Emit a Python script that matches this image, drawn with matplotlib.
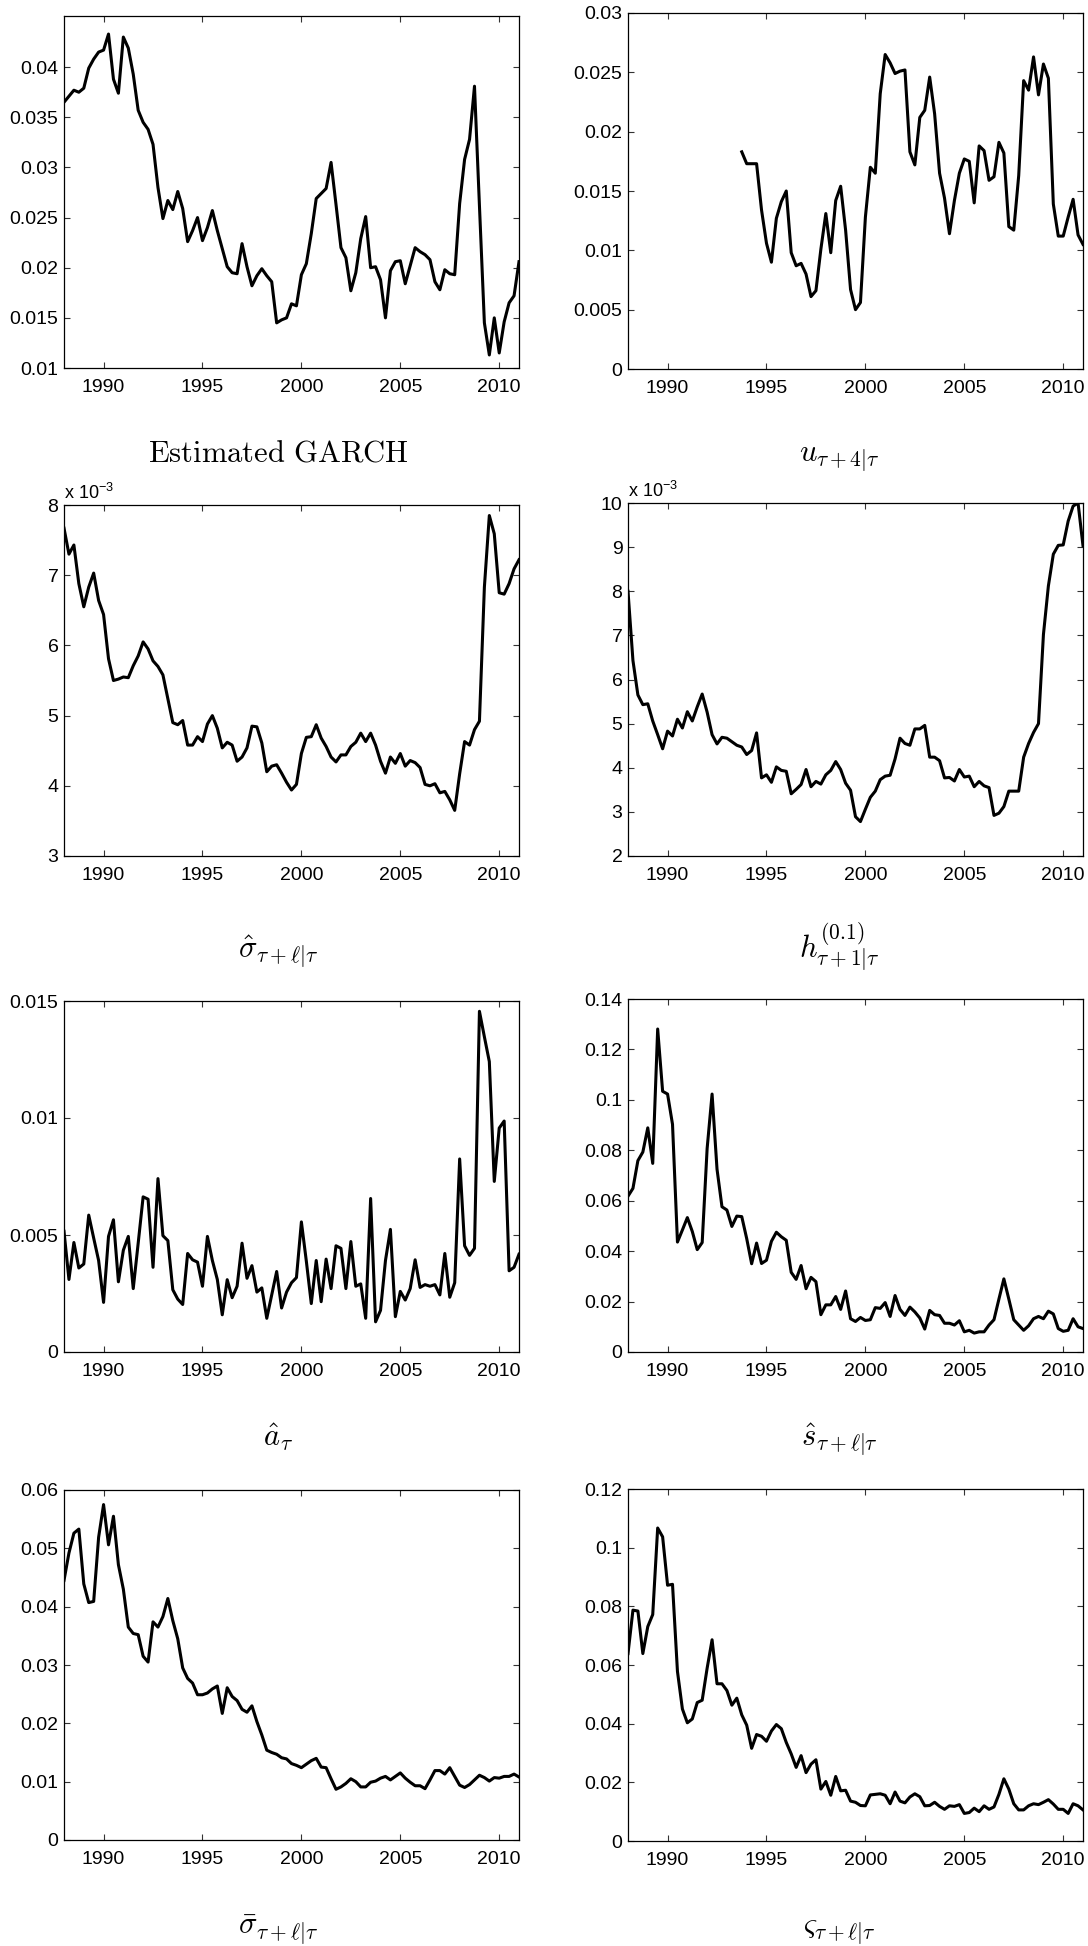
import numpy as np
import matplotlib
matplotlib.use("Agg")
import matplotlib.pyplot as plt
from matplotlib.ticker import FuncFormatter

plt.rcParams['font.family'] = ['Liberation Sans', 'DejaVu Sans']
plt.rcParams['mathtext.fontset'] = 'cm'

W, H = 1088, 1946

# quarterly dates 1988Q1 .. 2011Q1
quarters = np.arange(1988.0, 2011.01, 0.25)

garch_est = [
    0.0365, 0.0371, 0.0377, 0.0375, 0.0379, 0.0399, 0.0408, 0.0415,
    0.0417, 0.0433, 0.0388, 0.0374, 0.0430, 0.0419, 0.0393, 0.0357,
    0.0345, 0.0338, 0.0323, 0.0280, 0.0249, 0.0267, 0.0258, 0.0276,
    0.0259, 0.0226, 0.0237, 0.0250, 0.0227, 0.0240, 0.0257, 0.0237,
    0.0219, 0.0201, 0.0195, 0.0194, 0.0224, 0.0201, 0.0182, 0.0192,
    0.0199, 0.0192, 0.0186, 0.0145, 0.0148, 0.0150, 0.0164, 0.0162,
    0.0193, 0.0204, 0.0234, 0.0269, 0.0274, 0.0279, 0.0305, 0.0263,
    0.0220, 0.0210, 0.0177, 0.0195, 0.0229, 0.0251, 0.0200, 0.0201,
    0.0188, 0.0150, 0.0197, 0.0206, 0.0207, 0.0184, 0.0202, 0.0220,
    0.0216, 0.0213, 0.0208, 0.0186, 0.0178, 0.0198, 0.0194, 0.0193,
    0.0264, 0.0308, 0.0328, 0.0381, 0.0262, 0.0145, 0.0113, 0.0150,
    0.0115, 0.0146, 0.0165, 0.0172, 0.0206,
]

# u_{t+4|t}, available from 1993Q4 on
u_ahead = [
    0.0183,
    0.0173, 0.0173, 0.0173, 0.0134, 0.0106, 0.0090, 0.0127, 0.0141,
    0.0150, 0.0098, 0.0087, 0.0089, 0.0080, 0.0061, 0.0066, 0.0101,
    0.0131, 0.0098, 0.0142, 0.0154, 0.0117, 0.0067, 0.0050, 0.0056,
    0.0128, 0.0170, 0.0165, 0.0232, 0.0265, 0.0258, 0.0249, 0.0251,
    0.0252, 0.0183, 0.0172, 0.0212, 0.0218, 0.0246, 0.0215, 0.0165,
    0.0144, 0.0114, 0.0142, 0.0165, 0.0177, 0.0175, 0.0140, 0.0188,
    0.0184, 0.0159, 0.0162, 0.0191, 0.0182, 0.0120, 0.0117, 0.0163,
    0.0243, 0.0235, 0.0263, 0.0231, 0.0257, 0.0245, 0.0139, 0.0112,
    0.0112, 0.0128, 0.0143, 0.0113, 0.0105,
]

# sigma hat, in units of 1e-3
sigma_hat = [
    7.67, 7.30, 7.43, 6.88, 6.55, 6.83, 7.03, 6.64,
    6.44, 5.81, 5.50, 5.52, 5.55, 5.54, 5.71, 5.85,
    6.05, 5.95, 5.78, 5.70, 5.58, 5.24, 4.90, 4.87,
    4.93, 4.58, 4.58, 4.70, 4.63, 4.88, 5.00, 4.82,
    4.54, 4.62, 4.58, 4.35, 4.41, 4.54, 4.85, 4.84,
    4.61, 4.20, 4.28, 4.30, 4.18, 4.05, 3.94, 4.02,
    4.46, 4.69, 4.70, 4.87, 4.68, 4.56, 4.41, 4.34,
    4.44, 4.44, 4.56, 4.62, 4.75, 4.63, 4.75, 4.58,
    4.35, 4.18, 4.41, 4.32, 4.46, 4.28, 4.36, 4.33,
    4.26, 4.02, 4.00, 4.03, 3.90, 3.92, 3.80, 3.65,
    4.17, 4.63, 4.58, 4.80, 4.92, 6.83, 7.85, 7.59,
    6.75, 6.73, 6.88, 7.09, 7.22,
]

# h^(0.1), in units of 1e-3
h_quant = [
    8.00, 6.43, 5.65, 5.43, 5.45, 5.06, 4.75, 4.43,
    4.83, 4.72, 5.10, 4.90, 5.27, 5.06, 5.38, 5.67,
    5.26, 4.75, 4.54, 4.69, 4.67, 4.59, 4.51, 4.47,
    4.30, 4.39, 4.79, 3.77, 3.84, 3.67, 4.02, 3.94,
    3.92, 3.41, 3.51, 3.62, 3.96, 3.57, 3.69, 3.63,
    3.84, 3.94, 4.14, 3.96, 3.65, 3.49, 2.89, 2.78,
    3.06, 3.33, 3.47, 3.73, 3.81, 3.83, 4.20, 4.67,
    4.55, 4.51, 4.88, 4.88, 4.96, 4.24, 4.24, 4.16,
    3.77, 3.78, 3.70, 3.96, 3.79, 3.81, 3.57, 3.69,
    3.59, 3.55, 2.92, 2.97, 3.12, 3.47, 3.47, 3.47,
    4.24, 4.55, 4.80, 5.00, 7.02, 8.12, 8.84, 9.04,
    9.05, 9.59, 9.93, 10.0, 9.03,
]

a_hat = [
    0.00516, 0.00310, 0.00468, 0.00359, 0.00376, 0.00585, 0.00487, 0.00391,
    0.00212, 0.00494, 0.00565, 0.00300, 0.00435, 0.00494, 0.00271, 0.00465,
    0.00663, 0.00653, 0.00362, 0.00741, 0.00497, 0.00476, 0.00266, 0.00226,
    0.00203, 0.00421, 0.00394, 0.00384, 0.00281, 0.00494, 0.00391, 0.00310,
    0.00159, 0.00309, 0.00232, 0.00281, 0.00465, 0.00315, 0.00369, 0.00256,
    0.00274, 0.00144, 0.00244, 0.00344, 0.00188, 0.00256, 0.00296, 0.00318,
    0.00556, 0.00388, 0.00207, 0.00391, 0.00215, 0.00397, 0.00271, 0.00454,
    0.00443, 0.00271, 0.00472, 0.00281, 0.00291, 0.00144, 0.00656, 0.00129,
    0.00178, 0.00391, 0.00524, 0.00151, 0.00259, 0.00222, 0.00271, 0.00394,
    0.00276, 0.00288, 0.00281, 0.00288, 0.00244, 0.00421, 0.00234, 0.00296,
    0.00825, 0.00454, 0.00413, 0.00443, 0.01456, 0.01347, 0.01241, 0.00729,
    0.00957, 0.00987, 0.00347, 0.00362, 0.00418,
]

s_hat = [
    0.0618, 0.0649, 0.0759, 0.0793, 0.0889, 0.0748, 0.1281, 0.1034,
    0.1023, 0.0903, 0.0436, 0.0484, 0.0533, 0.0478, 0.0406, 0.0434,
    0.0807, 0.1023, 0.0725, 0.0576, 0.0563, 0.0498, 0.0539, 0.0537,
    0.0450, 0.0350, 0.0432, 0.0351, 0.0364, 0.0439, 0.0475, 0.0457,
    0.0443, 0.0316, 0.0288, 0.0343, 0.0251, 0.0296, 0.0279, 0.0148,
    0.0187, 0.0187, 0.0220, 0.0169, 0.0242, 0.0132, 0.0121, 0.0137,
    0.0125, 0.0128, 0.0176, 0.0173, 0.0196, 0.0141, 0.0224, 0.0169,
    0.0145, 0.0178, 0.0159, 0.0135, 0.0091, 0.0165, 0.0148, 0.0145,
    0.0114, 0.0114, 0.0107, 0.0124, 0.0080, 0.0086, 0.0075, 0.0080,
    0.0080, 0.0107, 0.0128, 0.0210, 0.0290, 0.0210, 0.0128, 0.0107,
    0.0086, 0.0104, 0.0132, 0.0141, 0.0132, 0.0162, 0.0151, 0.0093,
    0.0082, 0.0086, 0.0132, 0.0100, 0.0093,
]

sigma_bar = [
    0.0445, 0.0492, 0.0526, 0.0533, 0.0439, 0.0407, 0.0409, 0.0519,
    0.0575, 0.0506, 0.0555, 0.0472, 0.0430, 0.0365, 0.0354, 0.0352,
    0.0315, 0.0305, 0.0374, 0.0365, 0.0383, 0.0414, 0.0376, 0.0345,
    0.0295, 0.0277, 0.0269, 0.0249, 0.0249, 0.0252, 0.0259, 0.0264,
    0.0217, 0.0261, 0.0246, 0.0239, 0.0224, 0.0219, 0.0230, 0.0203,
    0.0180, 0.0154, 0.0150, 0.0147, 0.0141, 0.0139, 0.0131, 0.0128,
    0.0124, 0.0130, 0.0136, 0.0140, 0.0125, 0.0124, 0.0105, 0.0087,
    0.0091, 0.0097, 0.0105, 0.0100, 0.0091, 0.0091, 0.0099, 0.0101,
    0.0106, 0.0109, 0.0103, 0.0109, 0.0115, 0.0106, 0.0099, 0.0093,
    0.0093, 0.0088, 0.0103, 0.0119, 0.0119, 0.0113, 0.0124, 0.0109,
    0.0094, 0.0090, 0.0095, 0.0103, 0.0111, 0.0107, 0.0101, 0.0107,
    0.0106, 0.0109, 0.0109, 0.0113, 0.0108,
]

varsigma = [
    0.0639, 0.0787, 0.0784, 0.0639, 0.0731, 0.0772, 0.1067, 0.1037,
    0.0872, 0.0875, 0.0578, 0.0450, 0.0403, 0.0416, 0.0472, 0.0480,
    0.0589, 0.0686, 0.0536, 0.0536, 0.0513, 0.0463, 0.0487, 0.0430,
    0.0395, 0.0316, 0.0363, 0.0357, 0.0340, 0.0375, 0.0397, 0.0383,
    0.0336, 0.0297, 0.0251, 0.0291, 0.0233, 0.0262, 0.0277, 0.0177,
    0.0203, 0.0156, 0.0220, 0.0171, 0.0173, 0.0136, 0.0132, 0.0121,
    0.0120, 0.0157, 0.0159, 0.0161, 0.0156, 0.0127, 0.0167, 0.0136,
    0.0130, 0.0150, 0.0161, 0.0151, 0.0120, 0.0121, 0.0132, 0.0118,
    0.0108, 0.0120, 0.0118, 0.0124, 0.0094, 0.0097, 0.0112, 0.0100,
    0.0120, 0.0108, 0.0116, 0.0159, 0.0212, 0.0177, 0.0127, 0.0106,
    0.0106, 0.0120, 0.0127, 0.0124, 0.0132, 0.0141, 0.0126, 0.0108,
    0.0108, 0.0094, 0.0127, 0.0120, 0.0106,
]

year_ticks = [1990, 1995, 2000, 2005, 2010]

captions = [
    r'$\mathrm{Estimated\ GARCH}$',
    r'$u_{\tau+4|\tau}$',
    r'$\hat{\sigma}_{\tau+\ell|\tau}$',
    r'$h^{(0.1)}_{\tau+1|\tau}$',
    r'$\hat{a}_{\tau}$',
    r'$\hat{s}_{\tau+\ell|\tau}$',
    r'$\bar{\sigma}_{\tau+\ell|\tau}$',
    r'$\varsigma_{\tau+\ell|\tau}$',
]

# panel spec: series, x values, y limits, y ticks, scaled by 1e-3?
panels = [
    (garch_est, quarters, (0.01, 0.0451), np.arange(0.01, 0.0401, 0.005), False),
    (u_ahead, quarters[-len(u_ahead):], (0, 0.03), np.arange(0, 0.0301, 0.005), False),
    (sigma_hat, quarters, (3, 8), np.arange(3, 9), True),
    (h_quant, quarters, (2, 10), np.arange(2, 11), True),
    (a_hat, quarters, (0, 0.015), [0, 0.005, 0.01, 0.015], False),
    (s_hat, quarters, (0, 0.14), np.arange(0, 0.141, 0.02), False),
    (sigma_bar, quarters, (0, 0.06), np.arange(0, 0.061, 0.01), False),
    (varsigma, quarters, (0, 0.12), np.arange(0, 0.121, 0.02), False),
]

# axes boxes in pixels: left, top, right, bottom
boxes = [
    (64, 16, 519, 368), (628, 13, 1083, 369),
    (64, 505, 519, 856), (628, 503, 1083, 856),
    (64, 1001, 519, 1352), (628, 999, 1083, 1352),
    (64, 1490, 519, 1840), (628, 1489, 1083, 1841),
]
caption_base = [462, 958, 1446, 1935]
caption_x = [278, 839]

fig = plt.figure(figsize=(W / 100, H / 100), dpi=100)
fmt = FuncFormatter(lambda v, p: f'{round(v, 6):g}')

for i, (ys, xs, ylim, yticks, scaled) in enumerate(panels):
    l, t, r, b = boxes[i]
    ax = fig.add_axes([l / W, 1 - b / H, (r - l) / W, (b - t) / H])
    ax.plot(xs, ys, color='black', lw=2.2)
    ax.set_xlim(1988, 2011)
    ax.set_ylim(*ylim)
    ax.set_xticks(year_ticks)
    ax.set_yticks(yticks)
    ax.yaxis.set_major_formatter(fmt)
    ax.tick_params(direction='in', top=True, right=True, length=4.5,
                   width=0.8, labelsize=14, color='#333333')
    ax.tick_params(axis='x', pad=8)
    ax.tick_params(axis='y', pad=4)
    for sp in ax.spines.values():
        sp.set_linewidth(0.9)
    if scaled:
        ax.text(0.0, 1.005, r'x 10$\mathregular{^{-3}}$', transform=ax.transAxes,
                ha='left', va='bottom', fontsize=13)
    row, col = divmod(i, 2)
    fig.text(caption_x[col] / W, 1 - caption_base[row] / H, captions[i],
             ha='center', va='baseline', fontsize=22)

fig.savefig('out.png', dpi=100)
